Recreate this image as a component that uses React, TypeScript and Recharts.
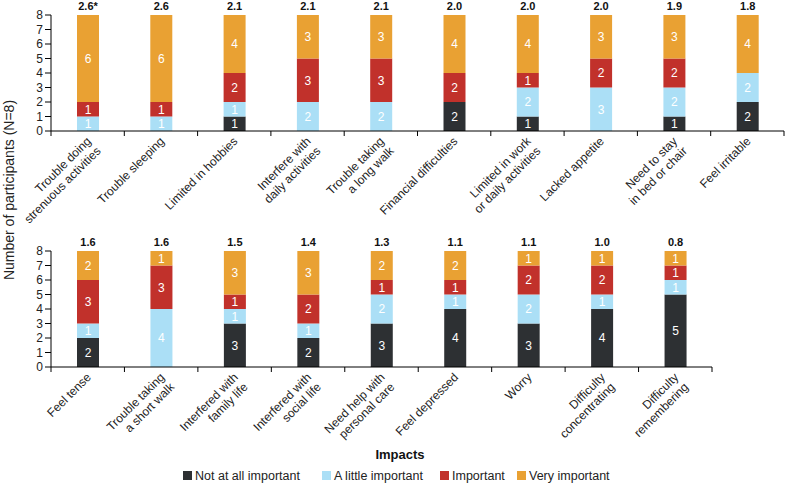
import React from 'react';
import { BarChart, Bar, XAxis, YAxis, LabelList } from 'recharts';

const FONT = '"Liberation Sans", Arial, sans-serif';

// ---- Data: top panel ----
const topCategories = [
  'Trouble doing\nstrenuous activities',
  'Trouble sleeping',
  'Limited in hobbies',
  'Interfere with\ndaily activities',
  'Trouble taking\na long walk',
  'Financial difficulties',
  'Limited in work\nor daily activities',
  'Lacked appetite',
  'Need to stay\nin bed or chair',
  'Feel irritable',
];
const topNotAtAll = [0, 0, 1, 0, 0, 2, 1, 0, 1, 2];
const topLittle = [1, 1, 1, 2, 2, 0, 2, 3, 2, 2];
const topImportant = [1, 1, 2, 3, 3, 2, 1, 2, 2, 0];
const topVery = [6, 6, 4, 3, 3, 4, 4, 3, 3, 4];
const topMeans = ['2.6*', '2.6', '2.1', '2.1', '2.1', '2.0', '2.0', '2.0', '1.9', '1.8'];

// ---- Data: bottom panel ----
const bottomCategories = [
  'Feel tense',
  'Trouble taking\na short walk',
  'Interfered with\nfamily life',
  'Interfered with\nsocial life',
  'Need help with\npersonal care',
  'Feel depressed',
  'Worry',
  'Difficulty\nconcentrating',
  'Difficulty\nremembering',
];
const bottomNotAtAll = [2, 0, 3, 2, 3, 4, 3, 4, 5];
const bottomLittle = [1, 4, 1, 1, 2, 1, 2, 1, 1];
const bottomImportant = [3, 3, 1, 2, 1, 1, 2, 2, 1];
const bottomVery = [2, 1, 3, 3, 2, 2, 1, 1, 1];
const bottomMeans = ['1.6', '1.6', '1.5', '1.4', '1.3', '1.1', '1.1', '1.0', '0.8'];

const yTicks = [0, 1, 2, 3, 4, 5, 6, 7, 8];

const seriesKeys = ['notAtAll', 'little', 'important', 'very'];
const seriesNames = ['Not at all important', 'A little important', 'Important', 'Very important'];
const seriesColors = ['#2d3033', '#abdff6', '#c1312b', '#e9a133'];

const build = (cats: string[], a: number[], b: number[], c: number[], d: number[], m: string[]) =>
  cats.map((name, i) => ({ name, notAtAll: a[i], little: b[i], important: c[i], very: d[i], mean: m[i] }));

const topData = build(topCategories, topNotAtAll, topLittle, topImportant, topVery, topMeans);
const bottomData = build(bottomCategories, bottomNotAtAll, bottomLittle, bottomImportant, bottomVery, bottomMeans);

const Y_AXIS_W = 51;
const RIGHT_M = 2;

const makeTick = (bw: number, n: number) => (props: any) => {
  const { x, y, payload, index } = props;
  const lines = String(payload.value).split('\n');
  return (
    <g>
      <line x1={x - bw / 2} x2={x - bw / 2} y1={y} y2={y + 5} stroke="#000" strokeWidth={1} />
      {index === n - 1 && (
        <line x1={x + bw / 2} x2={x + bw / 2} y1={y} y2={y + 5} stroke="#000" strokeWidth={1} />
      )}
      <text
        transform={`translate(${x + 4},${y + 11}) rotate(-45)`}
        textAnchor="end"
        fontSize={12}
        fontFamily={FONT}
        fill="#222"
      >
        {lines.map((l, i) => (
          <tspan key={i} x={0} dy={i === 0 ? 0 : '1.15em'}>
            {l}
          </tspan>
        ))}
      </text>
    </g>
  );
};

const segFormatter = (v: any) => (v ? String(v) : '');

function Panel({ data, width, height, top }: { data: any[]; width: number; height: number; top: number }) {
  const n = data.length;
  const bw = (width - Y_AXIS_W - RIGHT_M) / n;
  return (
    <BarChart
      width={width}
      height={height}
      data={data}
      margin={{ top, right: RIGHT_M, left: 0, bottom: 0 }}
      barSize={22}
    >
      <XAxis
        dataKey="name"
        interval={0}
        tickLine={false}
        tickSize={0}
        tickMargin={0}
        height={height - top - 116}
        axisLine={{ stroke: '#000', strokeWidth: 1 }}
        tick={makeTick(bw, n)}
      />
      <YAxis
        domain={[0, 8]}
        ticks={yTicks}
        interval={0}
        width={Y_AXIS_W}
        tickSize={6}
        tickMargin={2}
        axisLine={{ stroke: '#000', strokeWidth: 1 }}
        tickLine={{ stroke: '#000', strokeWidth: 1 }}
        tick={{ fontSize: 12, fill: '#222', fontFamily: FONT }}
      />
      {seriesKeys.map((k, si) => (
        <Bar key={k} dataKey={k} stackId="s" fill={seriesColors[si]} isAnimationActive={false} name={seriesNames[si]}>
          <LabelList
            dataKey={k}
            position="center"
            formatter={segFormatter}
            fill="#ffffff"
            fontSize={12}
            fontFamily={FONT}
          />
          {si === seriesKeys.length - 1 && (
            <LabelList
              dataKey="mean"
              position="top"
              offset={5}
              fill="#111"
              fontSize={11}
              fontWeight="bold"
              fontFamily={FONT}
            />
          )}
        </Bar>
      ))}
    </BarChart>
  );
}

export default function App() {
  const legendX = [183, 322, 440, 517];
  return (
    <div style={{ position: 'absolute', left: 0, top: 0, width: 786, height: 484, background: '#fff', fontFamily: FONT }}>
      <div style={{ position: 'absolute', left: 0, top: 0 }}>
        <Panel data={topData} width={786} height={240} top={15} />
      </div>
      <div style={{ position: 'absolute', left: 0, top: 235 }}>
        <Panel data={bottomData} width={714} height={240} top={16} />
      </div>
      <svg width={786} height={484} style={{ position: 'absolute', left: 0, top: 0, pointerEvents: 'none' }}>
        <text
          transform="translate(14,190) rotate(-90)"
          textAnchor="middle"
          fontSize={14}
          fontFamily={FONT}
          fill="#222"
        >
          Number of participants (N=8)
        </text>
        <text x={400} y={459} textAnchor="middle" fontSize={13} fontWeight="bold" fontFamily={FONT} fill="#111">
          Impacts
        </text>
        {seriesNames.map((nm, i) => (
          <g key={nm}>
            <rect x={legendX[i]} y={471} width={9} height={9} fill={seriesColors[i]} />
            <text x={legendX[i] + 12} y={480} fontSize={12.5} fontFamily={FONT} fill="#222">
              {nm}
            </text>
          </g>
        ))}
      </svg>
    </div>
  );
}
